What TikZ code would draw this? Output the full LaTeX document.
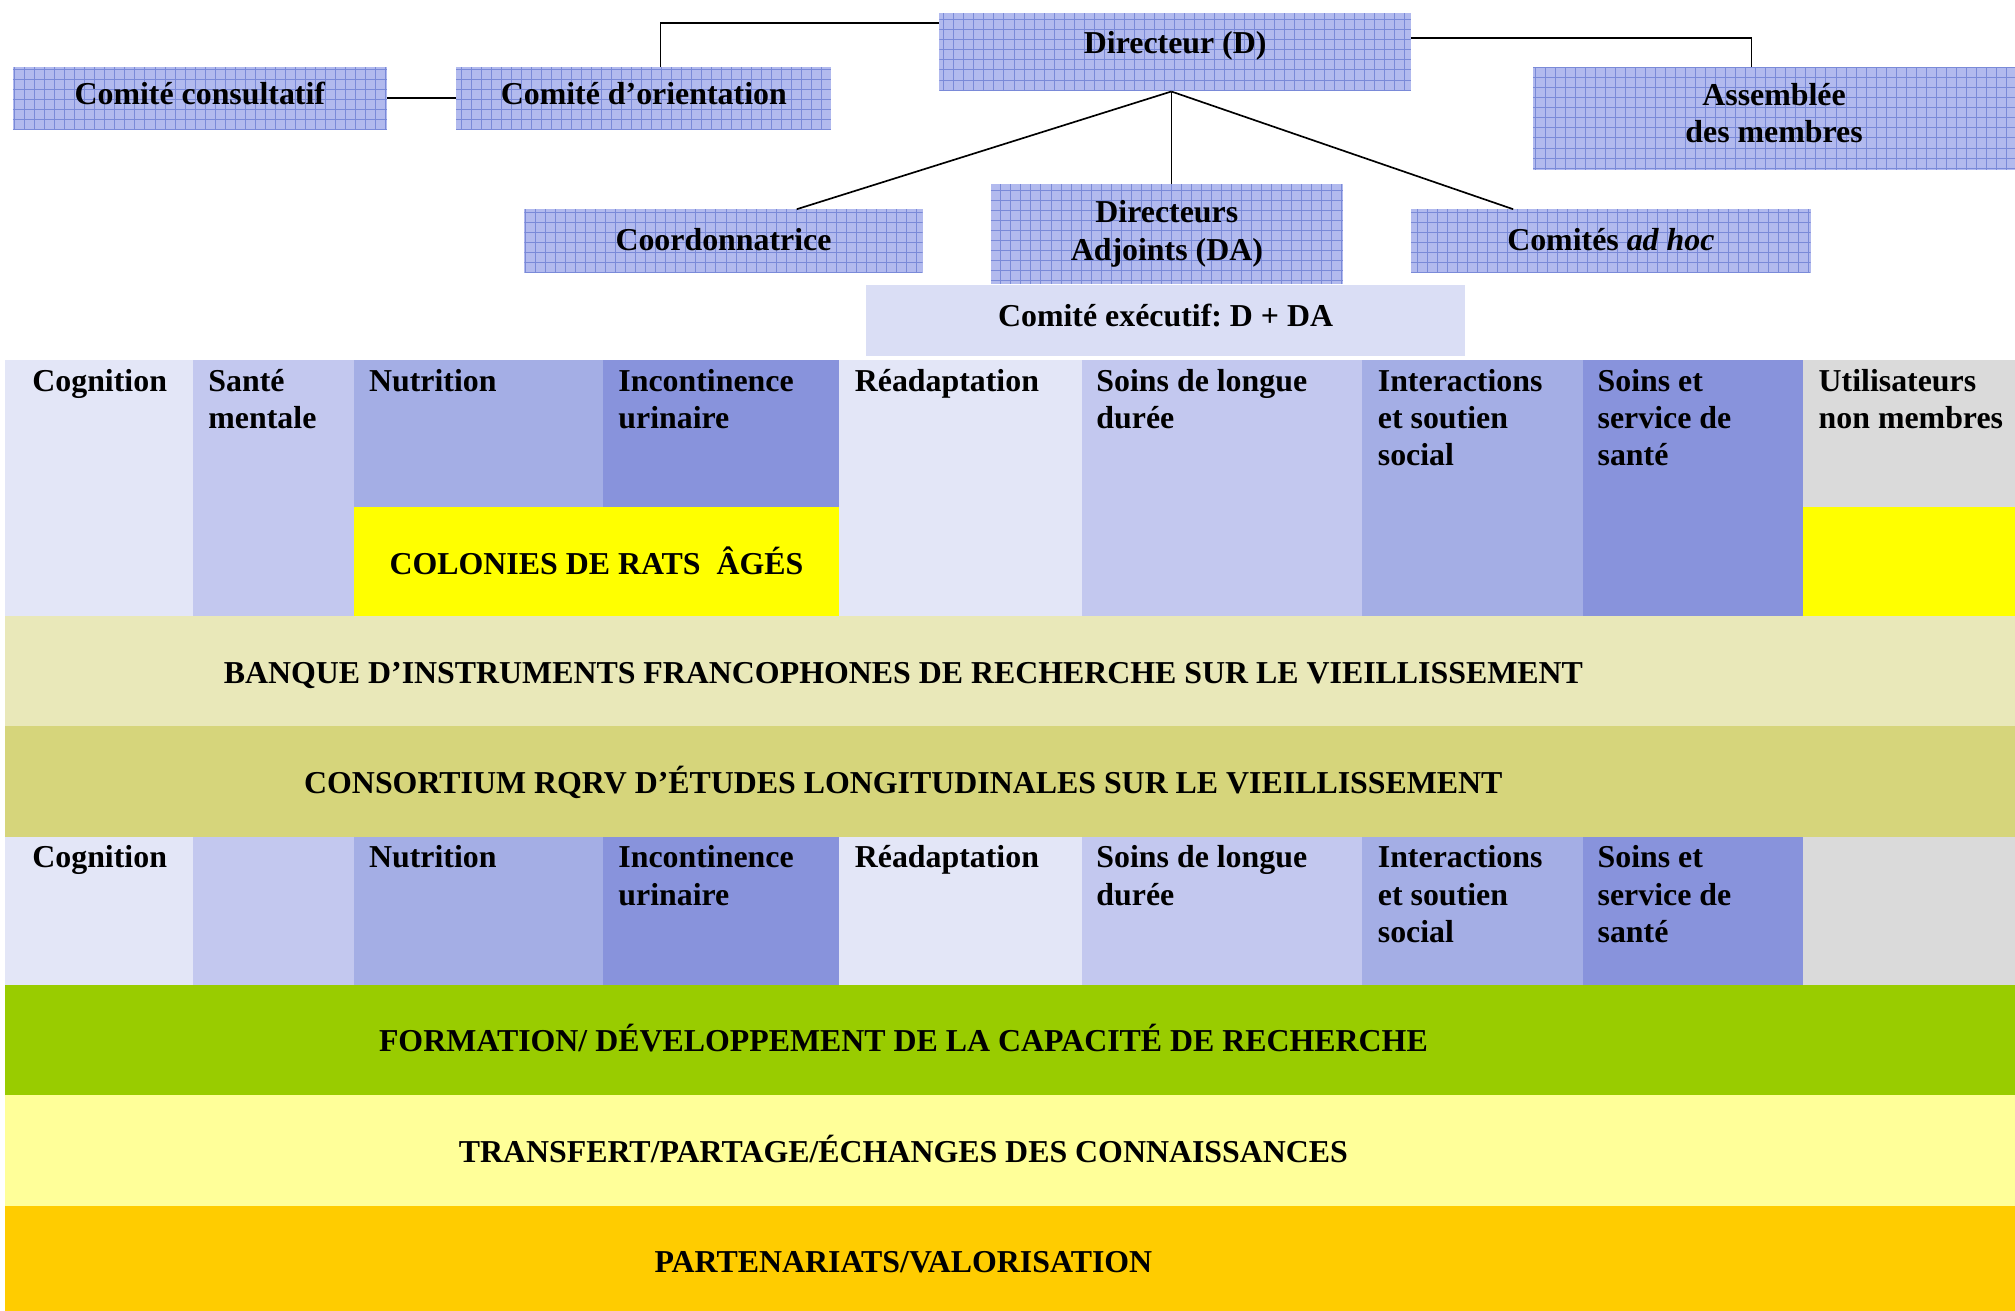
\documentclass[tikz,border=0pt]{standalone}
\usepackage{fontspec}
\setmainfont{Liberation Serif}
\frenchspacing
\definecolor{boxfill}{RGB}{178,186,238}
\definecolor{boxgrid}{RGB}{122,138,216}
\definecolor{execfill}{RGB}{218,222,245}
\definecolor{colA}{RGB}{227,230,247}
\definecolor{colB}{RGB}{195,200,239}
\definecolor{colC}{RGB}{164,174,229}
\definecolor{colD}{RGB}{136,147,220}
\definecolor{colgris}{RGB}{218,218,218}
\definecolor{jaune}{RGB}{255,255,0}
\definecolor{banque}{RGB}{233,232,185}
\definecolor{consort}{RGB}{214,213,123}
\definecolor{formation}{RGB}{153,204,0}
\definecolor{transfert}{RGB}{255,255,153}
\definecolor{partenariat}{RGB}{255,204,0}
% texte remonté dans sa boîte
\newcommand{\haut}[2][4pt]{\raisebox{#1}[\height][\depth]{#2}}
\begin{document}
\begin{tikzpicture}[x=1pt, y=-1pt,
  font=\bfseries\fontsize{24.8}{29}\selectfont,
  grille/.style={rectangle, inner sep=0pt, align=center, fill=boxfill,
                 path picture={\draw[boxgrid, line width=0.4pt]
                   (path picture bounding box.south west) grid[step=7.8pt]
                   (path picture bounding box.north east);}},
  cell/.style={rectangle, anchor=north west, inner sep=0pt, fill=#1},
  coltxt/.style={anchor=north west, inner sep=0pt, align=left},
  bande/.style={rectangle, anchor=north west, inner sep=0pt,
                minimum width=1564pt, fill=#1},
  lien/.style={line width=1.3pt}
]
  \useasboundingbox (0,0) rectangle (1568,1020);
  % Organigramme
  \node[grille, minimum width=367pt, minimum height=61pt] (dir)    at (914.5,40.5) {\haut[5pt]{Directeur (D)}};
  \node[grille, minimum width=291pt, minimum height=49pt] (cons)   at (155.5,76.5) {\haut{Comité consultatif}};
  \node[grille, minimum width=292pt, minimum height=49pt] (orient) at (501,76.5)   {\haut{Comité d’orientation}};
  \node[grille, minimum width=375pt, minimum height=80pt] (assemb) at (1380.5,92)  {\haut{Assemblée}\\\haut{des membres}};
  \node[grille, minimum width=310pt, minimum height=49pt] (coord)  at (563,187.5)  {\haut[1pt]{Coordonnatrice}};
  \node[grille, minimum width=274pt, minimum height=78pt] (adj)    at (908,182)    {Directeurs\\Adjoints (DA)};
  \node[grille, minimum width=311pt, minimum height=49pt] (adhoc)  at (1253.5,187.5) {\haut[1pt]{Comités \textit{ad hoc}}};
  \node[rectangle, fill=execfill, minimum width=466pt, minimum height=55pt] (exec) at (907,249.5) {\haut{Comité exécutif: D + DA}};
  % Liens
  \draw[lien] ([yshift=-8pt]dir.north west) -| ([xshift=13pt]orient.north);
  \draw[lien] (cons.east) -- (orient.west);
  \draw[lien] ([yshift=-20pt]dir.north east) -| ([xshift=-17.5pt]assemb.north);
  \draw[lien] ([xshift=-3pt]dir.south) -- ([xshift=57pt]coord.north);
  \draw[lien] ([xshift=-3pt]dir.south) -- ([xshift=-3pt]dir.south |- adj.north);
  \draw[lien] ([xshift=-3pt]dir.south) -- ([xshift=-76pt]adhoc.north);
  % Thèmes (rangée du haut)
  \node[cell=colA, minimum width=146pt, minimum height=199pt] (h1) at (4,280) {};
  \node[cell=colB, minimum width=125pt, minimum height=199pt] (h2) at (150,280) {};
  \node[cell=colC, minimum width=194pt, minimum height=114pt] (h3) at (275,280) {};
  \node[cell=colD, minimum width=184pt, minimum height=114pt] (h4) at (469,280) {};
  \node[cell=colA, minimum width=189pt, minimum height=199pt] (h5) at (653,280) {};
  \node[cell=colB, minimum width=218pt, minimum height=199pt] (h6) at (842,280) {};
  \node[cell=colC, minimum width=172pt, minimum height=199pt] (h7) at (1060,280) {};
  \node[cell=colD, minimum width=171pt, minimum height=199pt] (h8) at (1232,280) {};
  \node[cell=colgris, minimum width=165pt, minimum height=114pt] (h9) at (1403,280) {};
  \node[cell=jaune, minimum width=378pt, minimum height=85pt] (rats) at (275,394) {};
  \node[cell=jaune, minimum width=165pt, minimum height=85pt] (hj) at (1403,394) {};
  \node at (rats.center) {COLONIES DE RATS~~ÂGÉS};
  \node[coltxt] at ([shift={(21,7)}]h1.north west) {Cognition};
  \node[coltxt] at ([shift={(12,7)}]h2.north west) {Santé\\mentale};
  \node[coltxt] at ([shift={(12,7)}]h3.north west) {Nutrition};
  \node[coltxt] at ([shift={(12,7)}]h4.north west) {Incontinence\\urinaire};
  \node[coltxt] at ([shift={(12,7)}]h5.north west) {Réadaptation};
  \node[coltxt] at ([shift={(11,7)}]h6.north west) {Soins de longue\\durée};
  \node[coltxt] at ([shift={(12,7)}]h7.north west) {Interactions\\et soutien\\social};
  \node[coltxt] at ([shift={(11,7)}]h8.north west) {Soins et\\service de\\santé};
  \node[coltxt] at ([shift={(12,7)}]h9.north west) {Utilisateurs\\non membres};
  % Bandes transversales
  \node[bande=banque,  minimum height=86pt] (banq) at (4,479) {};
  \node[bande=consort, minimum height=86pt] (cons2) at (4,565) {};
  \node at (703,526) {BANQUE D’INSTRUMENTS FRANCOPHONES DE RECHERCHE SUR LE VIEILLISSEMENT};
  \node at (703,609) {CONSORTIUM RQRV D’ÉTUDES LONGITUDINALES SUR LE VIEILLISSEMENT};
  % Thèmes (rangée du bas)
  \node[cell=colA, minimum width=146pt, minimum height=115pt] (b1) at (4,651) {};
  \node[cell=colB, minimum width=125pt, minimum height=115pt] (b2) at (150,651) {};
  \node[cell=colC, minimum width=194pt, minimum height=115pt] (b3) at (275,651) {};
  \node[cell=colD, minimum width=184pt, minimum height=115pt] (b4) at (469,651) {};
  \node[cell=colA, minimum width=189pt, minimum height=115pt] (b5) at (653,651) {};
  \node[cell=colB, minimum width=218pt, minimum height=115pt] (b6) at (842,651) {};
  \node[cell=colC, minimum width=172pt, minimum height=115pt] (b7) at (1060,651) {};
  \node[cell=colD, minimum width=171pt, minimum height=115pt] (b8) at (1232,651) {};
  \node[cell=colgris, minimum width=165pt, minimum height=115pt] (b9) at (1403,651) {};
  \node[coltxt] at ([shift={(21,7)}]b1.north west) {Cognition};
  \node[coltxt] at ([shift={(12,7)}]b3.north west) {Nutrition};
  \node[coltxt] at ([shift={(12,7)}]b4.north west) {Incontinence\\urinaire};
  \node[coltxt] at ([shift={(12,7)}]b5.north west) {Réadaptation};
  \node[coltxt] at ([shift={(11,7)}]b6.north west) {Soins de longue\\durée};
  \node[coltxt] at ([shift={(12,7)}]b7.north west) {Interactions\\et soutien\\social};
  \node[coltxt] at ([shift={(11,7)}]b8.north west) {Soins et\\service de\\santé};
  % Bandes du bas
  \node[bande=formation,   minimum height=86pt] (form) at (4,766) {};
  \node[bande=transfert,   minimum height=86pt] (trans) at (4,852) {};
  \node[bande=partenariat, minimum height=82pt] (part) at (4,938) {};
  \node at (703,808) {FORMATION/ DÉVELOPPEMENT DE LA CAPACITÉ DE RECHERCHE};
  \node at (703,894) {TRANSFERT/PARTAGE/ÉCHANGES DES CONNAISSANCES};
  \node at (703,982) {PARTENARIATS/VALORISATION};
\end{tikzpicture}
\end{document}
